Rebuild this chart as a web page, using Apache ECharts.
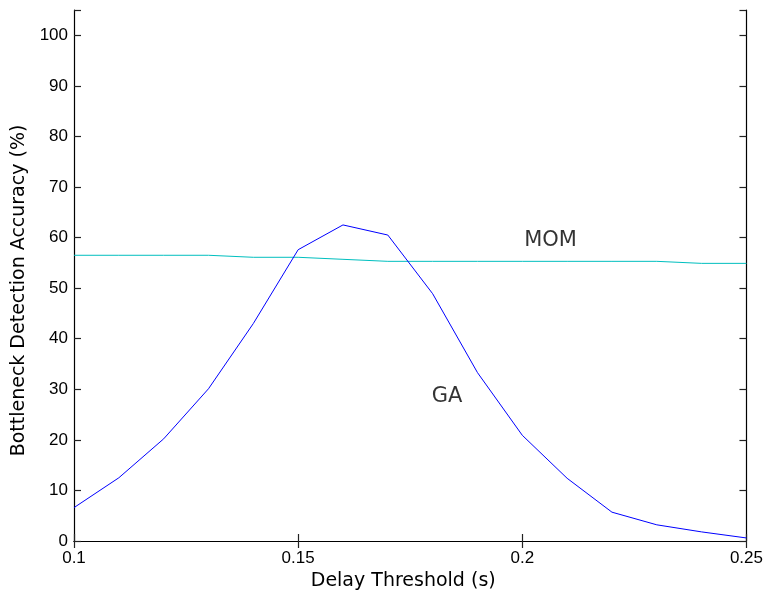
<!DOCTYPE html>
<html>
<head>
<meta charset="utf-8">
<script src="https://cdn.jsdelivr.net/npm/echarts@6/dist/echarts.min.js"></script>
<style>html,body{margin:0;padding:0;background:#fff;}#c{width:766px;height:597px;}</style>
</head>
<body>
<div id="c"></div>
<script>
const thresholds = [0.10,0.11,0.12,0.13,0.14,0.15,0.16,0.17,0.18,0.19,0.20,0.21,0.22,0.23,0.24,0.25];
const gaValues  = [6.6,12.5,20.2,30.1,43.0,57.6,62.5,60.5,48.9,33.3,20.9,12.4,5.7,3.2,1.8,0.6];
const momValues = [56.5,56.5,56.5,56.5,56.1,56.1,55.7,55.3,55.3,55.3,55.3,55.3,55.3,55.3,54.9,54.9];
const xTicks = [0.1,0.15,0.2,0.25];
const yTicks = [0,10,20,30,40,50,60,70,80,90,100];
const seriesLabels = [
  {name:'MOM', x:0.2063, y:59.4},
  {name:'GA', x:0.1832, y:28.6}
];

const chart = echarts.init(document.getElementById('c'), null, {renderer:'canvas'});
const tickFont = {fontFamily:'Liberation Sans, Arial, sans-serif', fontSize:17, color:'#000'};
const xLabelFmt = v => {
  const r = Math.round(v*100)/100;
  return xTicks.some(t => Math.abs(t - v) < 1e-9) ? String(r) : '';
};
const yLabelFmt = v => yTicks.includes(v) ? String(v) : '';
const axisLine = {show:true, lineStyle:{color:'#000', width:1.2}};
const axisTick = {show:true, inside:true, length:7, lineStyle:{color:'#222', width:1.2}};

chart.setOption({
  animation:false,
  backgroundColor:'#fff',
  grid:{left:74, right:19, top:10, bottom:56, containLabel:false},
  xAxis:[
    {type:'value', position:'bottom', min:0.1, max:0.25, interval:0.05,
     name:'Delay Threshold (s)', nameLocation:'middle', nameGap:29,
     nameTextStyle:{fontFamily:'DejaVu Sans', fontSize:19, color:'#000', padding:[0,14,0,0]},
     axisLine, axisTick, splitLine:{show:false},
     axisLabel:Object.assign({margin:9, formatter:xLabelFmt}, tickFont)},
    {type:'value', position:'top', min:0.1, max:0.25, interval:0.05,
     axisLine, axisTick, splitLine:{show:false}, axisLabel:{show:false}}
  ],
  yAxis:[
    {type:'value', position:'left', min:0, max:105, interval:10,
     name:'Bottleneck Detection Accuracy (%)', nameLocation:'middle', nameGap:40,
     nameTextStyle:{fontFamily:'DejaVu Sans', fontSize:19, color:'#000', padding:[0,30,0,0]},
     axisLine, axisTick, splitLine:{show:false},
     axisLabel:Object.assign({margin:6, formatter:yLabelFmt}, tickFont)},
    {type:'value', position:'right', min:0, max:105, interval:10,
     axisLine, axisTick, splitLine:{show:false}, axisLabel:{show:false}}
  ],
  series:[
    {name:'MOM', type:'line', xAxisIndex:0, yAxisIndex:0, showSymbol:false, symbol:'none',
     lineStyle:{color:'#00bfbf', width:1}, data: thresholds.map((t,i)=>[t, momValues[i]])},
    {name:'GA', type:'line', xAxisIndex:0, yAxisIndex:0, showSymbol:false, symbol:'none',
     lineStyle:{color:'#0000ff', width:1}, data: thresholds.map((t,i)=>[t, gaValues[i]])},
    {name:'labels', type:'scatter', xAxisIndex:0, yAxisIndex:0, symbolSize:0, silent:true,
     label:{show:true, position:'inside', formatter: p => p.data.name,
            fontFamily:'DejaVu Sans', fontSize:21, color:'#000', textBorderWidth:0},
     data: seriesLabels.map(l => ({name:l.name, value:[l.x, l.y]}))}
  ]
});
</script>
</body>
</html>
